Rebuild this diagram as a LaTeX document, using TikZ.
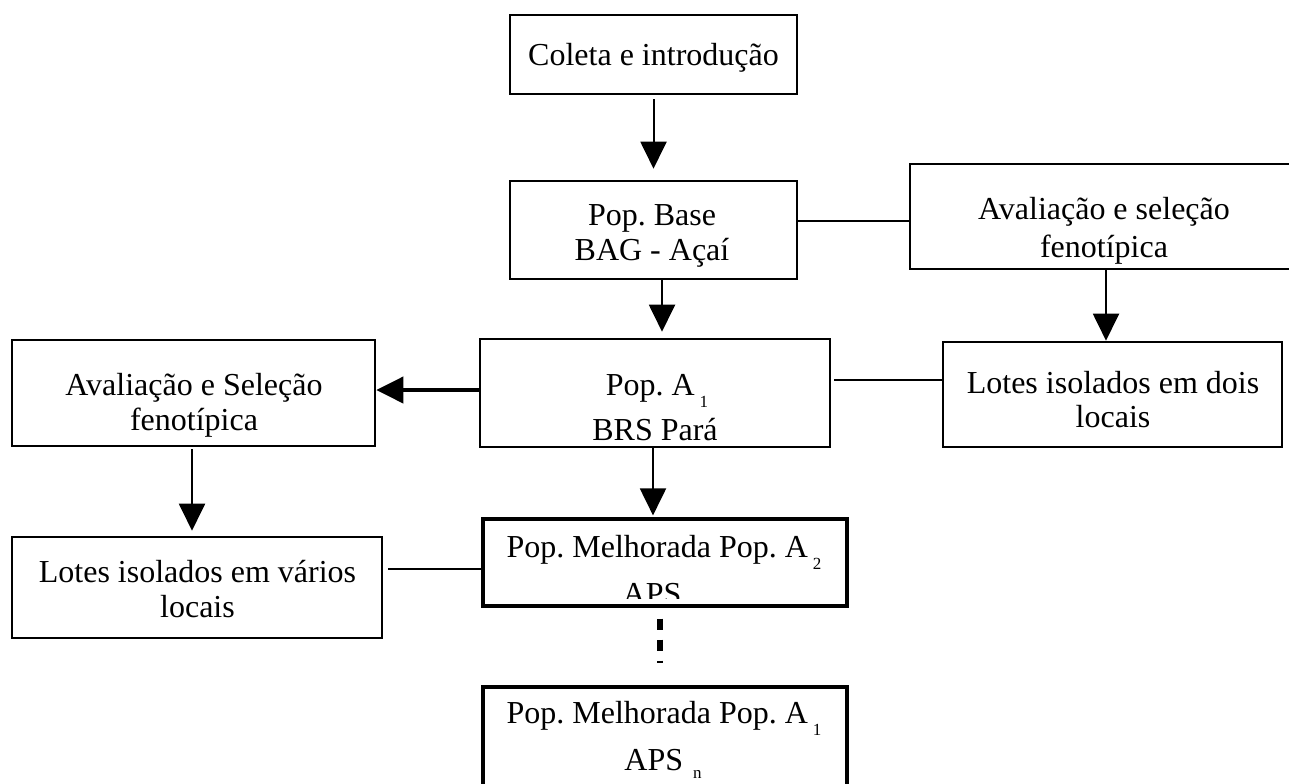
\documentclass[tikz,border=0pt]{standalone}
\usepackage{fontspec}
\setmainfont{Liberation Serif}
\usetikzlibrary{arrows.meta}
\frenchspacing
\newcommand{\mysub}[2][2.5pt]{\hspace{#1}\raisebox{-6pt}{\fontsize{8.5}{9}\selectfont #2}}
\begin{document}
\begin{tikzpicture}[x=0.5pt,y=-0.5pt,
  box/.style={draw, line width=1.3pt, rectangle, inner sep=0pt},
  txt/.style={anchor=base, inner sep=0pt, font=\fontsize{16}{17.5}\selectfont},
  arr/.style={draw, line width=1pt, -{Triangle[length=13.5pt,width=13pt]}},
  link/.style={draw, line width=1.2pt},
  dotline/.style={draw, line width=3pt, dash pattern=on 5.5pt off 5pt}
  ]
\useasboundingbox (0,0) rectangle (1289,783);
\clip (0,0) rectangle (1289,783);

% boxes
\node[box, minimum width=143.5pt, minimum height=39.5pt] (b1) at (653.5,54.5) {};
\node[txt] (t1) at (653.5,65) {Coleta e introdução};

\node[box, minimum width=143.5pt, minimum height=49pt] (b2) at (653.5,230) {};
\node[txt] (t2a) at (652,225) {Pop. Base};
\node[txt] (t2b) at (652,260) {BAG - Açaí};

\node[box, minimum width=194pt, minimum height=52.5pt] (b3) at (1104,216.5) {};
\node[txt] (t3a) at (1104,219) {Avaliação e seleção};
\node[txt] (t3b) at (1104,257) {fenotípica};

\node[box, minimum width=169.5pt, minimum height=52.5pt] (b4) at (1112.5,394.5) {};
\node[txt] (t4a) at (1113,393) {Lotes isolados em dois};
\node[txt] (t4b) at (1113,427) {locais};

\node[box, minimum width=175pt, minimum height=54pt] (b5) at (655,393) {};
\node[txt] (t5a) at (657,395) {Pop. A\mysub{1}};
\node[txt] (t5b) at (655,440) {BRS Pará};

\node[box, minimum width=181.5pt, minimum height=53pt] (b6) at (193.5,393) {};
\node[txt] (t6a) at (194,395) {Avaliação e Seleção};
\node[txt] (t6b) at (194,430) {fenotípica};

\node[box, minimum width=185pt, minimum height=50.5pt] (b7) at (197,587.5) {};
\node[txt] (t7a) at (197.5,582) {Lotes isolados em vários};
\node[txt] (t7b) at (197.5,617) {locais};

\node[box, line width=1.6pt, minimum width=182pt, minimum height=43.5pt] (b8) at (665,562.5) {};
\node[txt] (t8a) at (664,557) {Pop. Melhorada Pop. A\mysub{2}};
\begin{scope}
  \clip (485,570) rectangle (845,598);
  \node[txt] (t8b) at (652,604) {APS};
\end{scope}

\node[box, line width=1.6pt, minimum width=182pt, minimum height=56.5pt] (b9) at (665,743.5) {};
\node[txt] (t9a) at (664,723) {Pop. Melhorada Pop. A\mysub{1}};
\node[txt] (t9b) at (663,770) {APS\hspace{5pt}\raisebox{-4pt}{\fontsize{8.5}{9}\selectfont n}};

% arrows
\draw[arr, shorten <=2pt, shorten >=5.5pt] (b1.south) -- (b2.north);
\draw[arr, shorten >=3pt] ([xshift=4.25pt]b2.south) -- ([xshift=4.25pt]b2.south |- b5.north);
\draw[arr] ([xshift=1pt]b3.south) -- ([xshift=1pt]b3.south |- b4.north);
\draw[arr, shorten >=1pt] ([xshift=-1pt]b5.south) -- ([xshift=-1pt]b5.south |- b8.north);
\draw[arr, shorten <=1pt, shorten >=2.5pt] ([xshift=-0.75pt]b6.south) -- ([xshift=-0.75pt]b6.south |- b7.north);
\draw[arr, line width=2pt] ([yshift=1.5pt]b5.west) -- ([yshift=1.5pt]b5.west -| b6.east);

% plain links
\draw[link] ([yshift=4.5pt]b2.east) -- ([yshift=4.5pt]b2.east -| b3.west);
\draw[link] ([xshift=1.5pt,yshift=6.5pt]b5.east) -- ([yshift=6.5pt]b5.east -| b4.west);
\draw[link] ([xshift=2.5pt,yshift=9.25pt]b7.east) -- ([yshift=9.25pt]b7.east -| b8.west);

% dotted continuation
\draw[dotline, shorten <=5.5pt, shorten >=11pt] ([xshift=-2.5pt]b8.south) -- ([xshift=-2.5pt]b8.south |- b9.north);
\end{tikzpicture}
\end{document}
